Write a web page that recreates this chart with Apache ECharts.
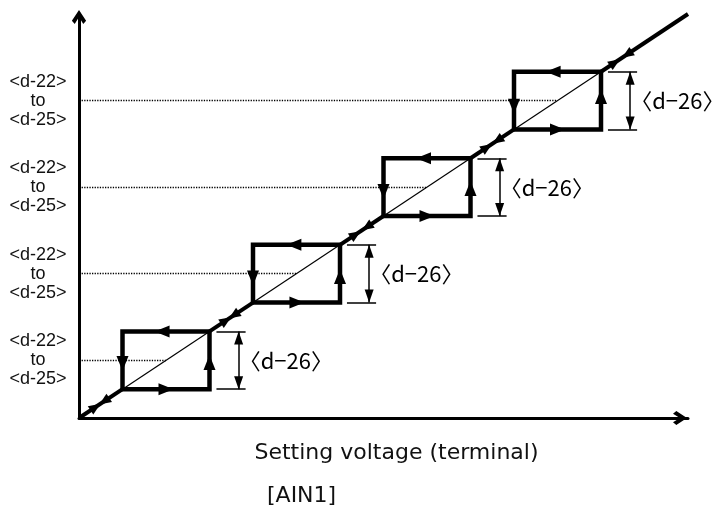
<!DOCTYPE html>
<html>
<head>
<meta charset="utf-8">
<script src="https://cdn.jsdelivr.net/npm/echarts@6/dist/echarts.min.js"></script>
<style>
    html, body { margin: 0; padding: 0; background: #fff; }
    #chart { width: 715px; height: 506px; }
</style>
</head>
<body>
<div id="chart"></div>
<script>
    // one hysteresis box per step (axis units)
    const boxLeft   = [1, 4, 7, 10]
    const boxRight  = [3, 6, 9, 12]
    const boxBottom = [1, 4, 7, 10]
    const boxTop    = [3, 6, 9, 12]
    // dotted reference level of every step
    const levelY = [2, 5, 8, 11]
    const levelLabel = '<d-22>\nto\n<d-25>'
    const widthLabel = '〈d−26〉'
    // thick diagonal pieces outside the boxes
    const diagFrom = [0, 3, 6, 9, 12]
    const diagTo   = [1, 4, 7, 10, 14]
    // arrow centres on the box edges
    const arrowTopX    = [1.91, 4.94, 7.92, 10.9]
    const arrowBottomX = [2.0, 5.01, 8.0, 11.0]
    const arrowLeftY   = [1.89, 4.85, 7.85, 10.8]
    const arrowRightY  = [1.92, 4.9, 7.95, 11.14]
    // small arrows on the diagonal
    const diagUp   = [0.38, 3.38, 6.36, 9.38, 12.32]
    const diagDown = [0.58, 3.56, 6.62, 9.62, 12.6]
    // <d-26> dimension marks
    const dimFrom = [3.16, 6.16, 9.16, 12.16]
    const dimTo   = [3.83, 6.83, 9.83, 12.83]
    const dimX    = [3.67, 6.67, 9.67, 12.67]

    const latin = 'DejaVu Sans'
    const black = '#000'
    const chevron = 'path://M6,0 L12,9 L9.6,11.8 L6,6 L2.4,11.8 L0,9 Z'

    const myChart = echarts.init(document.getElementById('chart'))

    function buildOption(diagAngle) {
        const boxes = boxLeft.map((l, i) => ({
            coords: [[l, boxBottom[i]], [boxRight[i], boxBottom[i]], [boxRight[i], boxTop[i]], [l, boxTop[i]], [l, boxBottom[i]]]
        }))
        const edgeArrows = []
        boxLeft.forEach((l, i) => {
            edgeArrows.push({ value: [arrowTopX[i], boxTop[i]], symbolRotate: 90 })
            edgeArrows.push({ value: [arrowBottomX[i], boxBottom[i]], symbolRotate: -90 })
            edgeArrows.push({ value: [l, arrowLeftY[i]], symbolRotate: 180 })
            edgeArrows.push({ value: [boxRight[i], arrowRightY[i]], symbolRotate: 0 })
        })
        const diagArrows = []
        diagUp.forEach((v, i) => {
            diagArrows.push({ value: [v, v], symbolRotate: diagAngle - 90 })
            diagArrows.push({ value: [diagDown[i], diagDown[i]], symbolRotate: diagAngle + 90 })
        })
        const dimLines = []
        dimFrom.forEach((f, i) => {
            dimLines.push({ coords: [[f, boxBottom[i]], [dimTo[i], boxBottom[i]]] })
            dimLines.push({ coords: [[f, boxTop[i]], [dimTo[i], boxTop[i]]] })
        })
        return {
            animation: false,
            grid: { left: 79, right: 27, top: 14, bottom: 88 },
            title: {
                text: '[AIN1]',
                left: 267, top: 485, padding: 0,
                textStyle: { fontFamily: latin, fontSize: 22, fontWeight: 'normal', color: '#111' }
            },
            xAxis: {
                type: 'value', min: 0, max: 14, interval: 1,
                name: 'Setting voltage (terminal)',
                nameLocation: 'middle', nameGap: 24,
                nameTextStyle: { fontFamily: latin, fontSize: 22, color: '#111', padding: [0, 0, 0, 26] },
                axisLine: { lineStyle: { color: black, width: 3 }, symbol: ['none', chevron], symbolSize: [15, 14], symbolOffset: [0, -8] },
                axisTick: { show: false }, axisLabel: { show: false }, splitLine: { show: false }
            },
            yAxis: {
                type: 'value', min: 0, max: 14, interval: 1,
                axisLine: { lineStyle: { color: black, width: 3 }, symbol: ['none', chevron], symbolSize: [15, 14], symbolOffset: [0, -3] },
                axisTick: { show: false }, splitLine: { show: false },
                axisLabel: {
                    align: 'center', margin: 41,
                    fontFamily: 'Liberation Sans', fontSize: 18, lineHeight: 19, color: '#111',
                    formatter: v => levelY.includes(v) ? levelLabel : ''
                }
            },
            series: [
                {
                    type: 'lines', coordinateSystem: 'cartesian2d', z: 1,
                    lineStyle: { color: '#000', width: 1.3, type: 'dotted', opacity: 1 },
                    data: levelY.map(y => ({ coords: [[0, y], [y, y]] }))
                },
                {
                    type: 'lines', coordinateSystem: 'cartesian2d', z: 2,
                    lineStyle: { color: black, width: 1.2, opacity: 1 },
                    data: boxLeft.map((l, i) => ({ coords: [[l, boxBottom[i]], [boxRight[i], boxTop[i]]] }))
                },
                {
                    type: 'lines', coordinateSystem: 'cartesian2d', z: 3,
                    lineStyle: { color: black, width: 4, opacity: 1 },
                    data: diagFrom.map((f, i) => ({ coords: [[f, f], [diagTo[i], diagTo[i]]] }))
                },
                {
                    type: 'lines', coordinateSystem: 'cartesian2d', polyline: true, z: 3,
                    lineStyle: { color: black, width: 4.5, opacity: 1, join: 'miter', cap: 'square' },
                    data: boxes
                },
                {
                    type: 'lines', coordinateSystem: 'cartesian2d', z: 2,
                    lineStyle: { color: black, width: 1.5, opacity: 1 },
                    data: dimLines.concat(dimX.map((x, i) => ({ coords: [[x, boxBottom[i]], [x, boxTop[i]]] })))
                },
                {
                    type: 'scatter', z: 4, symbol: 'triangle', symbolSize: [12, 15],
                    itemStyle: { color: black, opacity: 1 },
                    data: edgeArrows
                },
                {
                    type: 'scatter', z: 4, symbol: 'triangle', symbolSize: [10, 12],
                    itemStyle: { color: black, opacity: 1 },
                    data: diagArrows
                },
                {
                    type: 'scatter', z: 4, symbol: 'triangle', symbolSize: [9, 13], symbolOffset: [0, '50%'],
                    itemStyle: { color: black, opacity: 1 },
                    data: dimX.map((x, i) => [x, boxTop[i]])
                },
                {
                    type: 'scatter', z: 4, symbol: 'triangle', symbolSize: [9, 13], symbolOffset: [0, '-50%'], symbolRotate: 180,
                    itemStyle: { color: black, opacity: 1 },
                    data: dimX.map((x, i) => [x, boxBottom[i]])
                },
                {
                    type: 'scatter', z: 5, symbolSize: 0,
                    itemStyle: { opacity: 1 },
                    label: {
                        show: true, position: 'right', distance: 0,
                        formatter: widthLabel,
                        fontFamily: 'Noto Sans CJK JP', fontSize: 22, color: '#000'
                    },
                    data: dimX.map((x, i) => [x, levelY[i]])
                }
            ]
        }
    }

    myChart.setOption(buildOption(33.5))
    // angle of the diagonal on screen, taken from the axes
    const p0 = myChart.convertToPixel({ gridIndex: 0 }, [0, 0])
    const p1 = myChart.convertToPixel({ gridIndex: 0 }, [14, 14])
    const angle = Math.atan2(p0[1] - p1[1], p1[0] - p0[0]) * 180 / Math.PI
    myChart.setOption(buildOption(angle))

    window.addEventListener('resize', () => {
        if (myChart) myChart.resize()
    })
</script>
</body>
</html>
